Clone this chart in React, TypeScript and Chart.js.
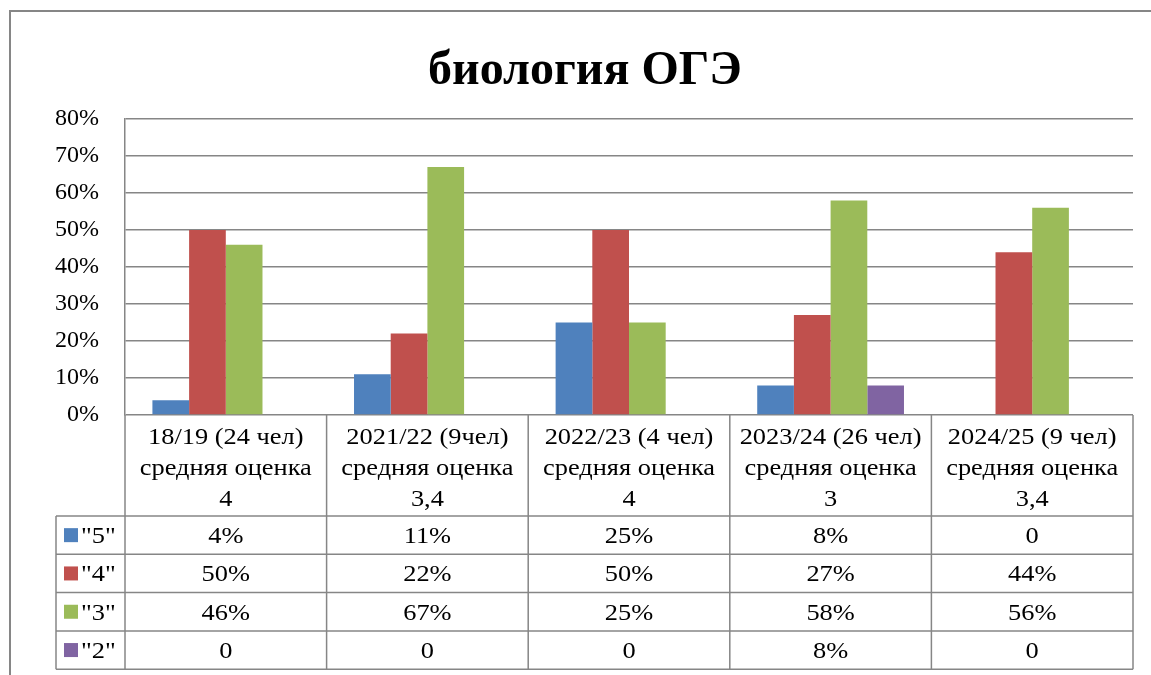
import React, { useEffect, useRef } from 'react';
import { Chart, registerables } from 'chart.js';

Chart.register(...registerables);

const TITLE = 'биология ОГЭ';
const categories: string[][] = [
  ['18/19 (24 чел)', 'средняя оценка', '4'],
  ['2021/22 (9чел)', 'средняя оценка', '3,4'],
  ['2022/23 (4 чел)', 'средняя оценка', '4'],
  ['2023/24 (26 чел)', 'средняя оценка', '3'],
  ['2024/25 (9 чел)', 'средняя оценка', '3,4'],
];
const seriesNames = ['"5"', '"4"', '"3"', '"2"'];
const grade5 = [4, 11, 25, 8, 0];
const grade4 = [50, 22, 50, 27, 44];
const grade3 = [46, 67, 25, 58, 56];
const grade2 = [0, 0, 0, 8, 0];
const seriesColors = ['#4F81BD', '#C0504D', '#9BBB59', '#8064A2'];
const yMin = 0;
const yMax = 80;
const yStep = 10;

const seriesValues = [grade5, grade4, grade3, grade2];

const FONT = '"Liberation Serif", "Times New Roman", serif';
const LINE = '#868686';
const LW = 1.5;
const SX = 1.1;

const fmt = (v: number) => (v === 0 ? '0' : `${v}%`);

function stretchedText(ctx: any, text: string, x: number, y: number, align: string) {
  ctx.save();
  ctx.translate(x, y);
  ctx.scale(SX, 1);
  ctx.textAlign = align;
  ctx.fillText(text, 0, 0);
  ctx.restore();
}

const framePlugin = {
  id: 'framePlugin',
  beforeDraw(chart: any) {
    const ctx = chart.ctx;
    ctx.save();
    ctx.strokeStyle = LINE;
    ctx.lineWidth = 2;
    ctx.beginPath();
    ctx.moveTo(10, 676);
    ctx.lineTo(10, 11);
    ctx.lineTo(1152, 11);
    ctx.stroke();
    ctx.fillStyle = '#000';
    ctx.font = `bold 48px ${FONT}`;
    ctx.textAlign = 'center';
    ctx.textBaseline = 'alphabetic';
    ctx.fillText(TITLE, 585, 84);
    ctx.restore();
  },
  afterDraw(chart: any) {
    const ctx = chart.ctx;
    const { left, right, bottom } = chart.chartArea;
    const xs = chart.scales.x;
    const n = categories.length;
    const colW = (right - left) / n;
    const headerH = 101;
    const rowH = 38.3;
    const legendLeft = 56;
    const rowsTop = bottom + headerH;
    const tableBottom = rowsTop + rowH * seriesNames.length;
    ctx.save();
    ctx.strokeStyle = LINE;
    ctx.lineWidth = LW;
    ctx.beginPath();
    for (let i = 0; i <= n; i++) {
      const x = i === n ? right : xs.getPixelForValue(i) - colW / 2;
      ctx.moveTo(x, bottom);
      ctx.lineTo(x, tableBottom);
    }
    ctx.moveTo(legendLeft, rowsTop);
    ctx.lineTo(legendLeft, tableBottom);
    for (let r = 0; r <= seriesNames.length; r++) {
      const y = rowsTop + r * rowH;
      ctx.moveTo(legendLeft, y);
      ctx.lineTo(right, y);
    }
    ctx.stroke();

    ctx.fillStyle = '#000';
    ctx.font = `24px ${FONT}`;
    ctx.textBaseline = 'alphabetic';
    categories.forEach((lines, i) => {
      const cx = xs.getPixelForValue(i);
      lines.forEach((ln, j) => {
        stretchedText(ctx, ln, cx, bottom + 29 + j * 31, 'center');
      });
    });
    seriesNames.forEach((name, r) => {
      const cy = rowsTop + r * rowH + rowH / 2;
      ctx.fillStyle = seriesColors[r];
      ctx.fillRect(64, cy - 7, 14, 14);
      ctx.fillStyle = '#000';
      stretchedText(ctx, name, 81, cy + 8, 'left');
      seriesValues[r].forEach((v, i) => {
        stretchedText(ctx, fmt(v), xs.getPixelForValue(i), cy + 8, 'center');
      });
    });
    ctx.restore();
  },
};

export default function App() {
  const ref = useRef<HTMLCanvasElement | null>(null);
  useEffect(() => {
    document.body.style.margin = '0';
    if (!ref.current) return;
    const chart = new Chart(ref.current, {
      type: 'bar',
      data: {
        labels: categories.map((c) => c.join(' ')),
        datasets: seriesNames.map((name, i) => ({
          label: name,
          data: seriesValues[i],
          backgroundColor: seriesColors[i],
          borderWidth: 0,
          categoryPercentage: 0.728,
          barPercentage: 1,
        })),
      },
      options: {
        animation: false,
        responsive: true,
        maintainAspectRatio: false,
        layout: { padding: { left: 20, right: 18, top: 119, bottom: 260 } },
        plugins: {
          legend: { display: false },
          title: { display: false },
          tooltip: { enabled: false },
        },
        scales: {
          x: { display: false },
          y: {
            min: yMin,
            max: yMax,
            afterFit: (s: any) => {
              s.width = 105;
            },
            ticks: {
              stepSize: yStep,
              padding: 26,
              color: '#000',
              font: { family: FONT, size: 24 },
              callback: (v: any) => `${v}%`,
            },
            grid: { color: LINE, lineWidth: LW, drawTicks: false },
            border: { display: true, color: LINE, width: LW },
          },
        },
      },
      plugins: [framePlugin],
    });
    return () => chart.destroy();
  }, []);
  return (
    <div style={{ position: 'fixed', left: 0, top: 0, width: 1151, height: 675 }}>
      <canvas ref={ref} />
    </div>
  );
}
